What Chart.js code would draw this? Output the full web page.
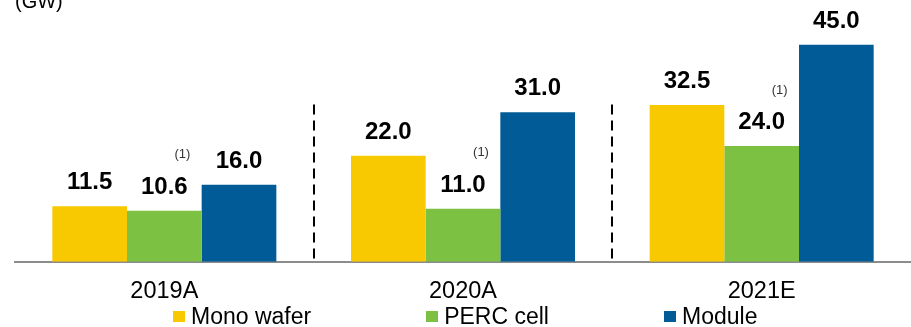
<!DOCTYPE html>
<html>
<head>
<meta charset="utf-8">
<script src="https://cdn.jsdelivr.net/npm/chart.js@4"></script>
<style>
  html, body { margin: 0; padding: 0; background: #fff; }
  #wrap { position: relative; width: 911px; height: 327px; overflow: hidden; }
  #chart { position: absolute; left: 0; top: 0; }
  #legend {
    position: absolute; left: 173px; top: 305px;
    display: flex; gap: 115px;
    font: 23px "Liberation Sans", Arial, sans-serif; line-height: 23px;
    color: #000; white-space: nowrap;
  }
  .item { display: flex; align-items: center; }
  .box { width: 12px; height: 11px; margin-right: 6px; }
</style>
</head>
<body>
<div id="wrap">
  <canvas id="chart" width="911" height="327"></canvas>
  <div id="legend"></div>
</div>
<script>
const years = ['2019A', '2020A', '2021E'];
const seriesNames = ['Mono wafer', 'PERC cell', 'Module'];
const monoWafer = [11.5, 22.0, 32.5];
const percCell = [10.6, 11.0, 24.0];
const moduleGw = [16.0, 31.0, 45.0];
const unitLabel = '(GW)';
const noteLabel = '(1)';   // footnote on the PERC cell values
const yMax = 54.3;
const dividerTop = 32.6;   // where the dashed year separators start (GW)

const colors = ['#F8C800', '#7CC142', '#005B96'];
const fontFamily = '"Liberation Sans", Arial, sans-serif';

Chart.defaults.font.family = fontFamily;

// value labels, footnote markers, dashed separators and the unit
const barNotes = {
  id: 'barNotes',
  afterDatasetsDraw(chart) {
    const ctx = chart.ctx;
    const area = chart.chartArea;
    const x = chart.scales.x;
    const y = chart.scales.y;
    ctx.save();

    ctx.strokeStyle = '#000';
    ctx.lineWidth = 2;
    ctx.setLineDash([10, 6]);
    for (let i = 1; i < years.length; i++) {
      const px = Math.round((x.getPixelForValue(i - 1) + x.getPixelForValue(i)) / 2);
      ctx.beginPath();
      ctx.moveTo(px, y.getPixelForValue(dividerTop));
      ctx.lineTo(px, area.bottom);
      ctx.stroke();
    }
    ctx.setLineDash([]);

    ctx.fillStyle = '#000';
    ctx.textAlign = 'center';
    ctx.textBaseline = 'alphabetic';
    ctx.font = 'bold 24px ' + fontFamily;
    chart.data.datasets.forEach((ds, di) => {
      chart.getDatasetMeta(di).data.forEach((bar, i) => {
        ctx.fillText(ds.data[i].toFixed(1), bar.x, bar.y - 17);
      });
    });

    ctx.font = '13px ' + fontFamily;
    ctx.fillStyle = '#333';
    ctx.textBaseline = 'middle';
    chart.getDatasetMeta(1).data.forEach(bar => {
      ctx.fillText(noteLabel, bar.x + 18, bar.y - 56);
    });

    ctx.textAlign = 'left';
    ctx.textBaseline = 'alphabetic';
    ctx.font = '20px ' + fontFamily;
    ctx.fillStyle = '#000';
    ctx.fillText(unitLabel, 15, 8);
    ctx.restore();
  }
};

const ctx = document.getElementById('chart').getContext('2d');
new Chart(ctx, {
  type: 'bar',
  data: {
    labels: years,
    datasets: [
      { label: seriesNames[0], data: monoWafer, backgroundColor: colors[0] },
      { label: seriesNames[1], data: percCell, backgroundColor: colors[1] },
      { label: seriesNames[2], data: moduleGw, backgroundColor: colors[2] }
    ]
  },
  options: {
    responsive: false,
    animation: false,
    devicePixelRatio: 1,
    categoryPercentage: 0.75,
    barPercentage: 1,
    layout: { padding: { left: 15, right: -1, top: 0, bottom: 5 } },
    plugins: {
      legend: { display: false },
      tooltip: { enabled: false }
    },
    scales: {
      x: {
        grid: { display: false, drawTicks: false },
        border: { display: true, color: '#8C8C8C', width: 2 },
        ticks: { color: '#000', padding: 16, font: { size: 23.5 } }
      },
      y: { display: false, min: 0, max: yMax }
    }
  },
  plugins: [barNotes]
});

// legend as plain text below the axis
const legend = document.getElementById('legend');
seriesNames.forEach((name, i) => {
  const item = document.createElement('div');
  item.className = 'item';
  const box = document.createElement('span');
  box.className = 'box';
  box.style.background = colors[i];
  item.appendChild(box);
  item.appendChild(document.createTextNode(name));
  legend.appendChild(item);
});
</script>
</body>
</html>
